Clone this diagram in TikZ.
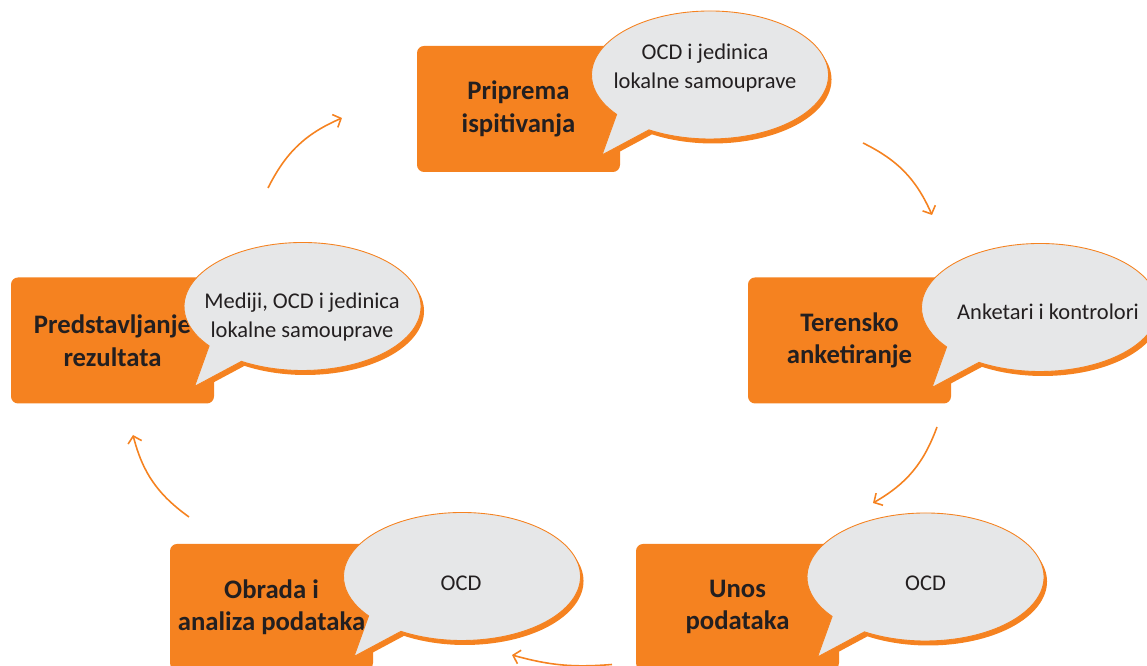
\documentclass[tikz,border=0pt]{standalone}
\usepackage{fontspec}
\setmainfont{Carlito}
\usetikzlibrary{arrows.meta, positioning, calc}
\definecolor{stageorange}{HTML}{F58220}
\definecolor{bubblegray}{HTML}{E6E7E8}
\definecolor{inkdark}{HTML}{231F20}

\begin{document}
\begin{tikzpicture}[
    stage/.style={rectangle, rounded corners=4pt, fill=stageorange,
                  minimum width=40.6mm, minimum height=25.2mm, align=center,
                  font=\fontsize{15.2}{18.5}\selectfont\bfseries, text=inkdark},
    who/.style={align=center, font=\fontsize{12.8}{17}\selectfont, text=inkdark},
    bubble/.pic={
        \fill[stageorange, shift={(0.06,-0.09)}]
            (218:2.37cm and 1.28cm) -- (-2.16,-1.6) -- (239:2.37cm and 1.28cm)
            arc[start angle=239, end angle=578, x radius=2.37, y radius=1.28] -- cycle;
        \filldraw[fill=bubblegray, draw=stageorange, line width=0.5pt]
            (218:2.37cm and 1.28cm) -- (-2.16,-1.6) -- (239:2.37cm and 1.28cm)
            arc[start angle=239, end angle=578, x radius=2.37, y radius=1.28] -- cycle;
    },
    arrow/.style={-{Straight Barb[length=1.3mm, width=2.8mm]}, line width=0.9pt,
                  color=stageorange, bend left=20}
]
\useasboundingbox (0,0) rectangle (22.94,13.32);

% stages
\node[stage] (prep)     at (10.37,11.14) {Priprema\\ispitivanja};
\node[stage] (field)    at (16.99,6.51)  {Terensko\\anketiranje};
\node[stage] (report)   at (2.25,6.51)   {Predstavljanje\\rezultata};
\node[stage] (analysis) at (5.43,1.18)   {Obrada i\\analiza podataka};
\node[stage] (entry)    at (14.75,1.18)  {Unos\\podataka};

% speech bubbles
\pic at (14.2,11.82) {bubble};
\pic at (20.8,7.17)  {bubble};
\pic at (6.05,7.19)  {bubble};
\pic at (9.24,1.79)  {bubble};
\pic at (18.51,1.78) {bubble};

\node[who] (prepwho)     at (14.1,11.96) {OCD i jedinica\\lokalne samouprave};
\node[who] (fieldwho)    at (20.96,7.08) {Anketari i kontrolori};
\node[who] (reportwho)   at (6.04,6.98)  {Mediji, OCD i jedinica\\lokalne samouprave};
\node[who] (analysiswho) at (9.22,1.66)  {OCD};
\node[who] (entrywho)    at (18.51,1.66) {OCD};

% cycle arrows
\coordinate (reportout)   at (5.36,9.56);
\coordinate (prepin)      at (6.84,10.96);
\coordinate (prepout)     at (17.26,10.46);
\coordinate (fieldin)     at (18.64,9.02);
\coordinate (fieldout)    at (18.74,4.78);
\coordinate (entryin)     at (17.46,3.26);
\coordinate (entryout)    at (12.24,0.03);
\coordinate (analysisin)  at (10.24,0.22);
\coordinate (analysisout) at (3.78,2.98);
\coordinate (reportin)    at (2.66,4.62);

\draw[arrow] (reportout) to (prepin);
\draw[arrow] (prepout) to (fieldin);
\draw[arrow] (fieldout) to (entryin);
\draw[arrow, bend left=10] (entryout) to (analysisin);
\draw[arrow] (analysisout) to (reportin);
\end{tikzpicture}
\end{document}
